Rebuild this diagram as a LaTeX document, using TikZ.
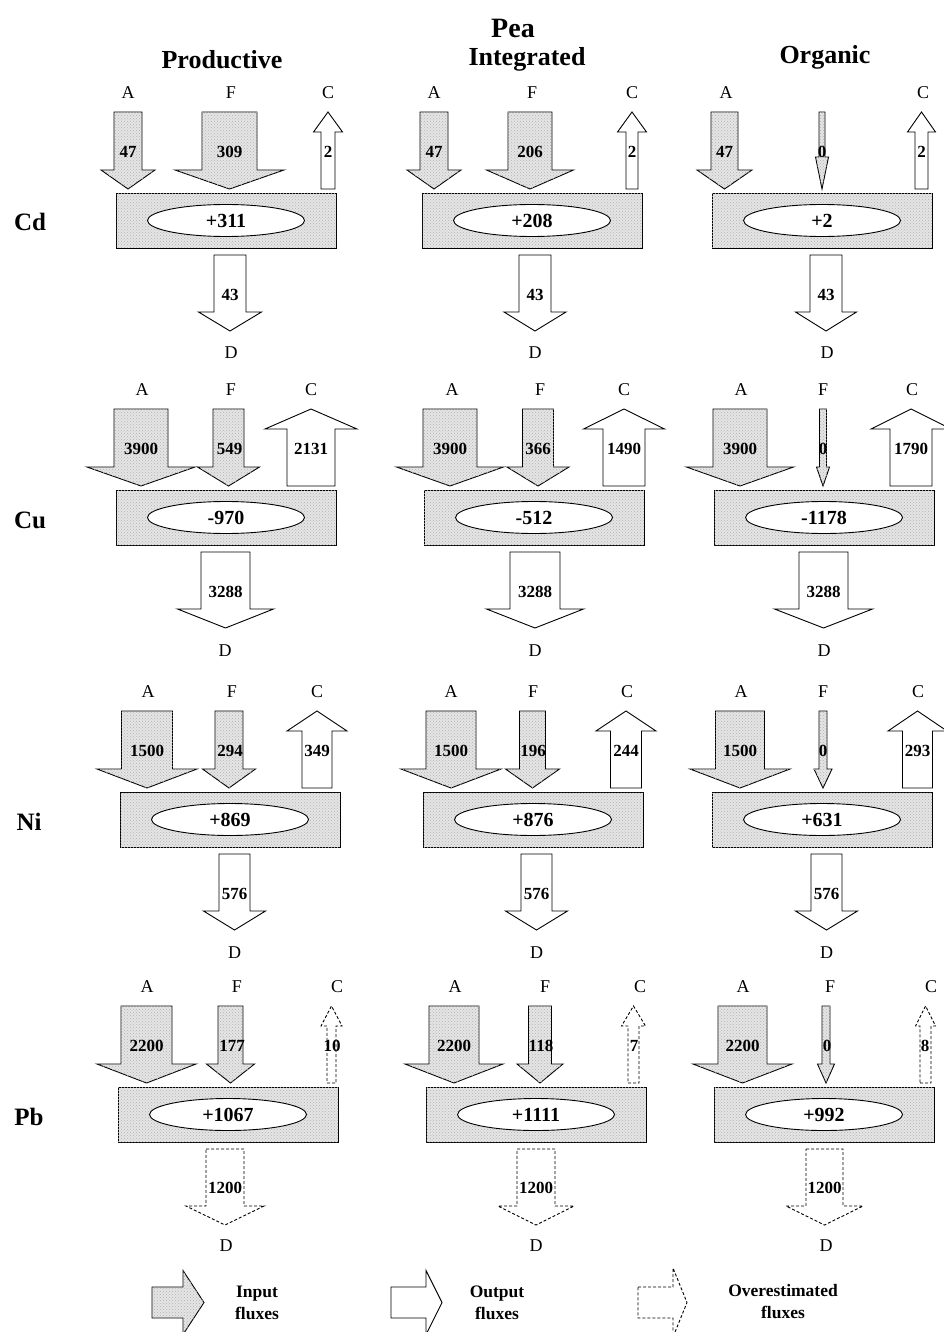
\documentclass[tikz,border=0pt]{standalone}
\usepackage{fontspec}
\setmainfont{Liberation Serif}
\usetikzlibrary{shapes.geometric,patterns}
\definecolor{fluxgray}{gray}{0.9}
\newcommand{\valfont}{\fontsize{17}{19}\selectfont\bfseries}
\newcommand{\balfont}{\fontsize{20}{22}\selectfont\bfseries}
\newcommand{\srcfont}{\fontsize{18}{20}\selectfont}
\newcommand{\hdrfont}{\fontsize{26}{28}\selectfont\bfseries}
\newcommand{\legfont}{\fontsize{17.5}{22}\selectfont\bfseries}

\begin{document}
\begin{tikzpicture}[x=1pt, y=-1pt,
    speckle/.style={fill=fluxgray, postaction={pattern=crosshatch dots, pattern color=black!30}},
    pool/.style={draw=black, line width=0.9pt, speckle, minimum width=220pt, minimum height=55pt},
    balance/.style={ellipse, draw=black, line width=0.9pt, fill=white, minimum width=157pt, minimum height=32pt, font=\balfont},
    influx/.style={draw=black, line width=0.9pt, speckle},
    outflux/.style={draw=black, line width=0.9pt, fill=white},
    overflux/.style={draw=black, line width=0.9pt, fill=white, dash pattern=on 3pt off 2pt},
    src/.style={font=\srcfont},
    val/.style={font=\valfont},
    colhead/.style={font=\hdrfont},
    metal/.style={font=\fontsize{25}{27}\selectfont\bfseries},
    legtext/.style={font=\legfont, align=center}]
    \tikzstyle{every node}+=[inner sep=0pt]
    \useasboundingbox (0,0) rectangle (944,1332);

    % headings
    \node [font=\fontsize{28}{30}\selectfont\bfseries] (pea) at (513,28) {Pea};
    \node [colhead] (prod) at (222,60) {Productive};
    \node [colhead] (integ) at (527,59) {Integrated};
    \node [colhead] (organ) at (825,57) {Organic};
    \node [metal] (cd) at (30,222) {Cd};
    \node [metal] (cu) at (30,520) {Cu};
    \node [metal] (ni) at (29,822) {Ni};
    \node [metal] (pb) at (29,1117) {Pb};

    % Cd
    \node [pool] (cdP) at (226,220.5) {};
    \node [balance] (cdPbal) at (cdP) {+311};
    \draw [influx] (114,112) -- (142,112) -- (142,170) -- (155,170) -- (128,189) -- (101,170) -- (114,170) -- cycle;
    \draw [influx] (202,112) -- (257,112) -- (257,170) -- (284,170) -- (229.5,189) -- (175,170) -- (202,170) -- cycle;
    \draw [outflux] (321,189) -- (335,189) -- (335,132) -- (342.5,132) -- (328,112) -- (313.5,132) -- (321,132) -- cycle;
    \draw [outflux] (214,255) -- (246,255) -- (246,312) -- (261.5,312) -- (230,331) -- (198.5,312) -- (214,312) -- cycle;
    \node [src] (cdPa) at (128,93) {A};
    \node [src] (cdPf) at (231,93) {F};
    \node [src] (cdPc) at (328,93) {C};
    \node [src] (cdPd) at (231,353) {D};
    \node [val] (cdPav) at (128,152) {47};
    \node [val] (cdPfv) at (229.5,152) {309};
    \node [val] (cdPcv) at (328,152) {2};
    \node [val] (cdPdv) at (230,295) {43};

    \node [pool] (cdI) at (532,220.5) {};
    \node [balance] (cdIbal) at (cdI) {+208};
    \draw [influx] (420,112) -- (448,112) -- (448,170) -- (461,170) -- (434,189) -- (407,170) -- (420,170) -- cycle;
    \draw [influx] (508,112) -- (552,112) -- (552,170) -- (573.5,170) -- (530,189) -- (486.5,170) -- (508,170) -- cycle;
    \draw [outflux] (626,189) -- (638,189) -- (638,132) -- (646.5,132) -- (632,112) -- (617.5,132) -- (626,132) -- cycle;
    \draw [outflux] (519,255) -- (551,255) -- (551,312) -- (566,312) -- (535,331) -- (504,312) -- (519,312) -- cycle;
    \node [src] (cdIa) at (434,93) {A};
    \node [src] (cdIf) at (532,93) {F};
    \node [src] (cdIc) at (632,93) {C};
    \node [src] (cdId) at (535,353) {D};
    \node [val] (cdIav) at (434,152) {47};
    \node [val] (cdIfv) at (530,152) {206};
    \node [val] (cdIcv) at (632,152) {2};
    \node [val] (cdIdv) at (535,295) {43};

    \node [pool] (cdO) at (822,220.5) {};
    \node [balance] (cdObal) at (cdO) {+2};
    \draw [influx] (711,112) -- (738,112) -- (738,170) -- (752,170) -- (724.5,189) -- (697,170) -- (711,170) -- cycle;
    \draw [influx] (819,112) -- (825,112) -- (825,157) -- (828.5,157) -- (822,189) -- (815.5,157) -- (819,157) -- cycle;
    \draw [outflux] (915,189) -- (928,189) -- (928,132) -- (935.5,132) -- (921.5,112) -- (907.5,132) -- (915,132) -- cycle;
    \draw [outflux] (810,255) -- (842,255) -- (842,312) -- (856.5,312) -- (826,331) -- (795.5,312) -- (810,312) -- cycle;
    \node [src] (cdOa) at (726,93) {A};
    \node [src] (cdOc) at (923,93) {C};
    \node [src] (cdOd) at (827,353) {D};
    \node [val] (cdOav) at (724.5,152) {47};
    \node [val] (cdOfv) at (822,152) {0};
    \node [val] (cdOcv) at (921.5,152) {2};
    \node [val] (cdOdv) at (826,295) {43};

    % Cu
    \node [pool] (cuP) at (226,517.5) {};
    \node [balance] (cuPbal) at (cuP) {-970};
    \draw [influx] (114,409) -- (168,409) -- (168,467) -- (195,467) -- (141,486) -- (87,467) -- (114,467) -- cycle;
    \draw [influx] (213,409) -- (244,409) -- (244,467) -- (259.5,467) -- (228.5,486) -- (197.5,467) -- (213,467) -- cycle;
    \draw [outflux] (287,486) -- (335,486) -- (335,429) -- (357,429) -- (311,409) -- (265,429) -- (287,429) -- cycle;
    \draw [outflux] (201,552) -- (250,552) -- (250,609) -- (273.5,609) -- (225.5,628) -- (177.5,609) -- (201,609) -- cycle;
    \node [src] (cuPa) at (142,390) {A};
    \node [src] (cuPf) at (231,390) {F};
    \node [src] (cuPc) at (311,390) {C};
    \node [src] (cuPd) at (225,651) {D};
    \node [val] (cuPav) at (141,449) {3900};
    \node [val] (cuPfv) at (229.5,449) {549};
    \node [val] (cuPcv) at (311,449) {2131};
    \node [val] (cuPdv) at (225.5,592) {3288};

    \node [pool] (cuI) at (534,517.5) {};
    \node [balance] (cuIbal) at (cuI) {-512};
    \draw [influx] (423,409) -- (477,409) -- (477,467) -- (503.5,467) -- (450,486) -- (396.5,467) -- (423,467) -- cycle;
    \draw [influx] (522.5,409) -- (553.5,409) -- (553.5,467) -- (569,467) -- (538,486) -- (507,467) -- (522.5,467) -- cycle;
    \draw [outflux] (603,486) -- (645,486) -- (645,429) -- (664.5,429) -- (624,409) -- (583.5,429) -- (603,429) -- cycle;
    \draw [outflux] (510,552) -- (560,552) -- (560,609) -- (583.5,609) -- (535,628) -- (486.5,609) -- (510,609) -- cycle;
    \node [src] (cuIa) at (452,390) {A};
    \node [src] (cuIf) at (540,390) {F};
    \node [src] (cuIc) at (624,390) {C};
    \node [src] (cuId) at (535,651) {D};
    \node [val] (cuIav) at (450,449) {3900};
    \node [val] (cuIfv) at (538,449) {366};
    \node [val] (cuIcv) at (624,449) {1490};
    \node [val] (cuIdv) at (535,592) {3288};

    \node [pool] (cuO) at (824,517.5) {};
    \node [balance] (cuObal) at (cuO) {-1178};
    \draw [influx] (713,409) -- (767,409) -- (767,467) -- (793.5,467) -- (740,486) -- (686.5,467) -- (713,467) -- cycle;
    \draw [influx] (819.5,409) -- (826.5,409) -- (826.5,467) -- (829.5,467) -- (823,486) -- (816.5,467) -- (819.5,467) -- cycle;
    \draw [outflux] (890,486) -- (932,486) -- (932,429) -- (951,429) -- (911,409) -- (871,429) -- (890,429) -- cycle;
    \draw [outflux] (799,552) -- (848,552) -- (848,609) -- (872.5,609) -- (823.5,628) -- (774.5,609) -- (799,609) -- cycle;
    \node [src] (cuOa) at (741,390) {A};
    \node [src] (cuOf) at (823,390) {F};
    \node [src] (cuOc) at (912,390) {C};
    \node [src] (cuOd) at (824,651) {D};
    \node [val] (cuOav) at (740,449) {3900};
    \node [val] (cuOfv) at (823,449) {0};
    \node [val] (cuOcv) at (911,449) {1790};
    \node [val] (cuOdv) at (823.5,592) {3288};

    % Ni
    \node [pool] (niP) at (230,819.5) {};
    \node [balance] (niPbal) at (niP) {+869};
    \draw [influx] (121.5,711) -- (172.5,711) -- (172.5,769) -- (197,769) -- (147,788) -- (97,769) -- (121.5,769) -- cycle;
    \draw [influx] (215,711) -- (243,711) -- (243,769) -- (255.5,769) -- (229,788) -- (202.5,769) -- (215,769) -- cycle;
    \draw [outflux] (302,788) -- (332,788) -- (332,731) -- (347,731) -- (317,711) -- (287,731) -- (302,731) -- cycle;
    \draw [outflux] (219,854) -- (250,854) -- (250,911) -- (265.5,911) -- (234.5,930) -- (203.5,911) -- (219,911) -- cycle;
    \node [src] (niPa) at (148,692) {A};
    \node [src] (niPf) at (232,692) {F};
    \node [src] (niPc) at (317,692) {C};
    \node [src] (niPd) at (234.5,953) {D};
    \node [val] (niPav) at (147,751) {1500};
    \node [val] (niPfv) at (230,751) {294};
    \node [val] (niPcv) at (317,751) {349};
    \node [val] (niPdv) at (234.5,894) {576};

    \node [pool] (niI) at (533,819.5) {};
    \node [balance] (niIbal) at (niI) {+876};
    \draw [influx] (426,711) -- (476,711) -- (476,769) -- (501,769) -- (451,788) -- (401,769) -- (426,769) -- cycle;
    \draw [influx] (519.5,711) -- (545.5,711) -- (545.5,769) -- (559.5,769) -- (532.5,788) -- (505.5,769) -- (519.5,769) -- cycle;
    \draw [outflux] (610.5,788) -- (641.5,788) -- (641.5,731) -- (656,731) -- (626,711) -- (596,731) -- (610.5,731) -- cycle;
    \draw [outflux] (521,854) -- (552,854) -- (552,911) -- (567.5,911) -- (536.5,930) -- (505.5,911) -- (521,911) -- cycle;
    \node [src] (niIa) at (451,692) {A};
    \node [src] (niIf) at (533,692) {F};
    \node [src] (niIc) at (627,692) {C};
    \node [src] (niId) at (536.5,953) {D};
    \node [val] (niIav) at (451,751) {1500};
    \node [val] (niIfv) at (533,751) {196};
    \node [val] (niIcv) at (626,751) {244};
    \node [val] (niIdv) at (536.5,894) {576};

    \node [pool] (niO) at (822,819.5) {};
    \node [balance] (niObal) at (niO) {+631};
    \draw [influx] (715.5,711) -- (764.5,711) -- (764.5,769) -- (790,769) -- (740,788) -- (690,769) -- (715.5,769) -- cycle;
    \draw [influx] (819,711) -- (827,711) -- (827,769) -- (832,769) -- (823,788) -- (814,769) -- (819,769) -- cycle;
    \draw [outflux] (902.5,788) -- (932.5,788) -- (932.5,731) -- (947,731) -- (917.5,711) -- (888,731) -- (902.5,731) -- cycle;
    \draw [outflux] (811,854) -- (842,854) -- (842,911) -- (857.5,911) -- (826.5,930) -- (795.5,911) -- (811,911) -- cycle;
    \node [src] (niOa) at (741,692) {A};
    \node [src] (niOf) at (823,692) {F};
    \node [src] (niOc) at (918,692) {C};
    \node [src] (niOd) at (826.5,953) {D};
    \node [val] (niOav) at (740,751) {1500};
    \node [val] (niOfv) at (823,751) {0};
    \node [val] (niOcv) at (917.5,751) {293};
    \node [val] (niOdv) at (826.5,894) {576};

    % Pb
    \node [pool] (pbP) at (228,1114.5) {};
    \node [balance] (pbPbal) at (pbP) {+1067};
    \draw [influx] (121,1006) -- (172,1006) -- (172,1064) -- (196,1064) -- (146.5,1083) -- (97,1064) -- (121,1064) -- cycle;
    \draw [influx] (218,1006) -- (243,1006) -- (243,1064) -- (254.5,1064) -- (230.5,1083) -- (206.5,1064) -- (218,1064) -- cycle;
    \draw [overflux] (327,1083) -- (336,1083) -- (336,1026) -- (342,1026) -- (331.5,1006) -- (321,1026) -- (327,1026) -- cycle;
    \draw [overflux] (206,1149) -- (244,1149) -- (244,1206) -- (264,1206) -- (225,1225) -- (186,1206) -- (206,1206) -- cycle;
    \node [src] (pbPa) at (147,987) {A};
    \node [src] (pbPf) at (237,987) {F};
    \node [src] (pbPc) at (337,987) {C};
    \node [src] (pbPd) at (226,1246) {D};
    \node [val] (pbPav) at (146.5,1046) {2200};
    \node [val] (pbPfv) at (232,1046) {177};
    \node [val] (pbPcv) at (332,1046) {10};
    \node [val] (pbPdv) at (225,1188) {1200};

    \node [pool] (pbI) at (536,1114.5) {};
    \node [balance] (pbIbal) at (pbI) {+1111};
    \draw [influx] (429,1006) -- (479,1006) -- (479,1064) -- (503,1064) -- (454,1083) -- (405,1064) -- (429,1064) -- cycle;
    \draw [influx] (528.5,1006) -- (551.5,1006) -- (551.5,1064) -- (563,1064) -- (540,1083) -- (517,1064) -- (528.5,1064) -- cycle;
    \draw [overflux] (628,1083) -- (639,1083) -- (639,1026) -- (645.5,1026) -- (633.5,1006) -- (621.5,1026) -- (628,1026) -- cycle;
    \draw [overflux] (517,1149) -- (555,1149) -- (555,1206) -- (574,1206) -- (536,1225) -- (498,1206) -- (517,1206) -- cycle;
    \node [src] (pbIa) at (455,987) {A};
    \node [src] (pbIf) at (545,987) {F};
    \node [src] (pbIc) at (640,987) {C};
    \node [src] (pbId) at (536,1246) {D};
    \node [val] (pbIav) at (454,1046) {2200};
    \node [val] (pbIfv) at (541,1046) {118};
    \node [val] (pbIcv) at (634,1046) {7};
    \node [val] (pbIdv) at (536,1188) {1200};

    \node [pool] (pbO) at (824,1114.5) {};
    \node [balance] (pbObal) at (pbO) {+992};
    \draw [influx] (718,1006) -- (767,1006) -- (767,1064) -- (792,1064) -- (742.5,1083) -- (693,1064) -- (718,1064) -- cycle;
    \draw [influx] (822,1006) -- (830,1006) -- (830,1064) -- (834.5,1064) -- (826,1083) -- (817.5,1064) -- (822,1064) -- cycle;
    \draw [overflux] (920,1083) -- (931,1083) -- (931,1026) -- (935.5,1026) -- (925.5,1006) -- (915.5,1026) -- (920,1026) -- cycle;
    \draw [overflux] (806,1149) -- (843,1149) -- (843,1206) -- (863,1206) -- (824.5,1225) -- (786,1206) -- (806,1206) -- cycle;
    \node [src] (pbOa) at (743,987) {A};
    \node [src] (pbOf) at (830,987) {F};
    \node [src] (pbOc) at (931,987) {C};
    \node [src] (pbOd) at (826,1246) {D};
    \node [val] (pbOav) at (742.5,1046) {2200};
    \node [val] (pbOfv) at (827,1046) {0};
    \node [val] (pbOcv) at (925,1046) {8};
    \node [val] (pbOdv) at (824.5,1188) {1200};

    % legend
    \draw [influx] (152,1287) -- (183,1287) -- (183,1270.5) -- (204,1302.5) -- (183,1334.5) -- (183,1318) -- (152,1318) -- cycle;
    \draw [outflux] (391,1287) -- (426,1287) -- (426,1270.5) -- (442,1302.5) -- (426,1334.5) -- (426,1318) -- (391,1318) -- cycle;
    \draw [overflux] (638,1287) -- (673,1287) -- (673,1268) -- (687,1302.5) -- (673,1337) -- (673,1318) -- (638,1318) -- cycle;
    \node [legtext] (inleg) at (257,1303) {Input\\fluxes};
    \node [legtext] (outleg) at (497,1303) {Output\\fluxes};
    \node [legtext] (overleg) at (783,1302) {Overestimated\\fluxes};
\end{tikzpicture}
\end{document}
